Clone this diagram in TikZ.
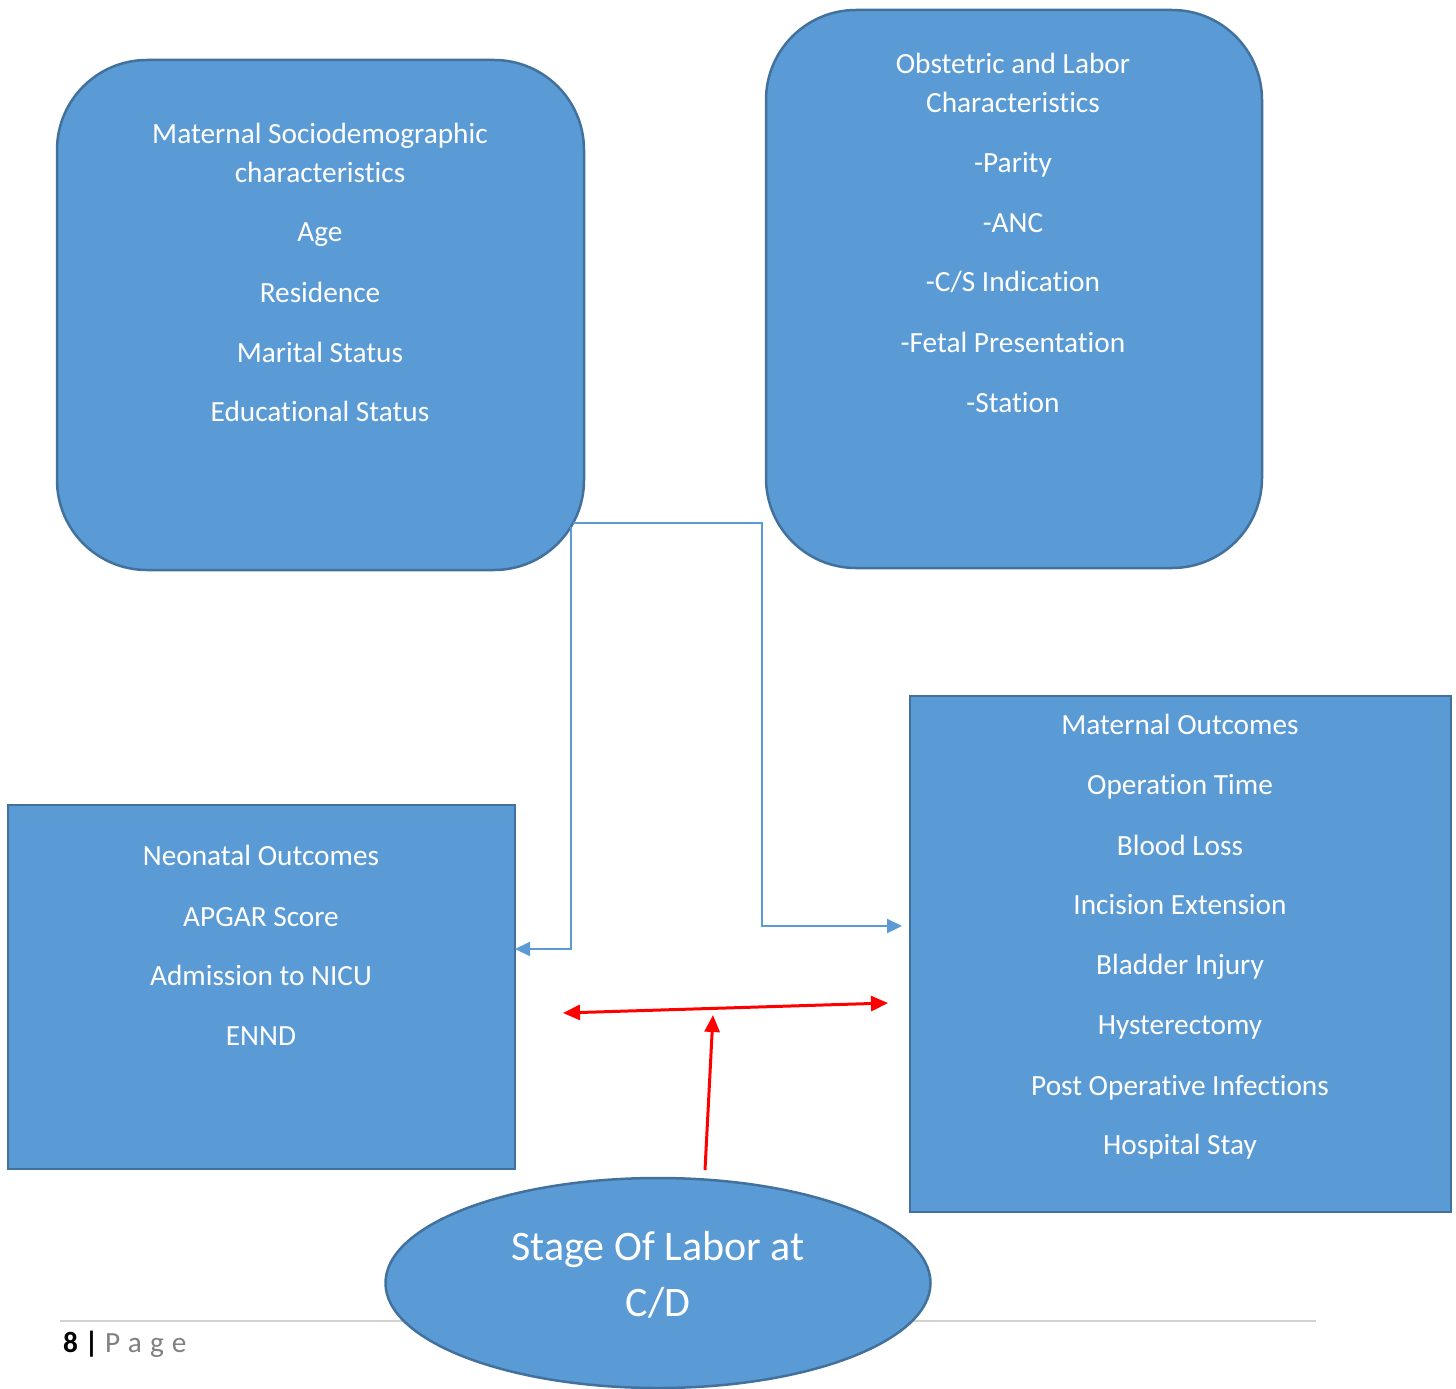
\documentclass[tikz,border=0pt]{standalone}
\usepackage{fontspec}
\setmainfont{Carlito}[RawFeature={-liga;-clig;-dlig;-calt;-rlig}]
\usetikzlibrary{shapes.geometric,arrows.meta}
\definecolor{boxfill}{HTML}{5B9BD5}
\definecolor{boxline}{HTML}{41719C}
\definecolor{pagegray}{HTML}{808080}
\tikzset{
  rbox/.style={draw=boxline,line width=2.5pt,fill=boxfill,rounded corners=90pt},
  sbox/.style={draw=boxline,line width=2.5pt,fill=boxfill},
  txt/.style={text=white,font=\fontsize{29.3}{35}\selectfont,inner sep=0pt,anchor=base,yshift=-9.5pt},
  bigtxt/.style={text=white,font=\fontsize{42}{50}\selectfont,inner sep=0pt,anchor=base,yshift=-13.5pt},
  blueconn/.style={draw=boxfill,line width=2.2pt,-{Triangle[length=15pt,width=14pt]}},
  redconn/.style={draw=red,line width=3pt},
  redtip/.tip={Triangle[length=17pt,width=15pt]}
}
\begin{document}
\begin{tikzpicture}[x=1pt,y=-1pt]
\useasboundingbox (0,0) rectangle (1456,1389);
% footer line
\draw[draw=black!18,line width=1.5pt] (60,1321) -- (1316,1321);
\node[inner sep=0pt,anchor=base west,font=\fontsize{29.3}{35}\selectfont] (pagenum) at (63,1352) {\textbf{8 |} \textcolor{pagegray}{\addfontfeature{LetterSpace=28}Page}};
% boxes
\draw[rbox] (57,60) rectangle (584,570);
\draw[rbox] (766,10) rectangle (1262,568);
\draw[sbox] (8,805) rectangle (515,1169);
\draw[sbox] (910,696) rectangle (1451,1212);
\node[draw=boxline,line width=2.5pt,fill=boxfill,ellipse,minimum width=545pt,minimum height=210pt,inner sep=0pt] (stage) at (658,1283) {};
% box 1 text
\node[txt] (t11) at (320,134) {Maternal Sociodemographic};
\node[txt] (t12) at (320,173) {characteristics};
\node[txt] (t13) at (320,232) {Age};
\node[txt] (t14) at (320,293) {Residence};
\node[txt] (t15) at (320,353) {Marital Status};
\node[txt] (t16) at (320,412) {Educational Status};
% box 2 text
\node[txt] (t21) at (1013,64) {Obstetric and Labor};
\node[txt] (t22) at (1013,103) {Characteristics};
\node[txt] (t23) at (1013,163) {-Parity};
\node[txt] (t24) at (1013,223) {-ANC};
\node[txt] (t25) at (1013,282) {-C/S Indication};
\node[txt] (t26) at (1013,343) {-Fetal Presentation};
\node[txt] (t27) at (1013,403) {-Station};
% box 3 text
\node[txt] (t31) at (261,856) {Neonatal Outcomes};
\node[txt] (t32) at (261,917) {APGAR Score};
\node[txt] (t33) at (261,976) {Admission to NICU};
\node[txt] (t34) at (261,1036) {ENND};
% box 4 text
\node[txt] (t41) at (1180,725) {Maternal Outcomes};
\node[txt] (t42) at (1180,785) {Operation Time};
\node[txt] (t43) at (1180,846) {Blood Loss};
\node[txt] (t44) at (1180,905) {Incision Extension};
\node[txt] (t45) at (1180,965) {Bladder Injury};
\node[txt] (t46) at (1180,1025) {Hysterectomy};
\node[txt] (t47) at (1180,1086) {Post Operative Infections};
\node[txt] (t48) at (1180,1145) {Hospital Stay};
% ellipse text
\node[bigtxt] (e1) at (658,1247) {Stage Of Labor at};
\node[bigtxt] (e2) at (658,1303) {C/D};
% connectors
\coordinate (c1s) at (571,527);
\coordinate (c1e) at (515,949);
\coordinate (c2s) at (573,523);
\coordinate (c2e) at (902,926);
\draw[blueconn] (c1s) -- (571,949) -- (c1e);
\draw[blueconn] (c2s) -- (762,523) -- (762,926) -- (c2e);
\coordinate (rl) at (563,1013);
\coordinate (rr) at (888,1003);
\coordinate (rt) at (713,1015);
\coordinate (rb) at (705,1170);
\draw[redconn,redtip-redtip] (rl) -- (rr);
\draw[redconn,-redtip] (rb) -- (rt);
\end{tikzpicture}
\end{document}
